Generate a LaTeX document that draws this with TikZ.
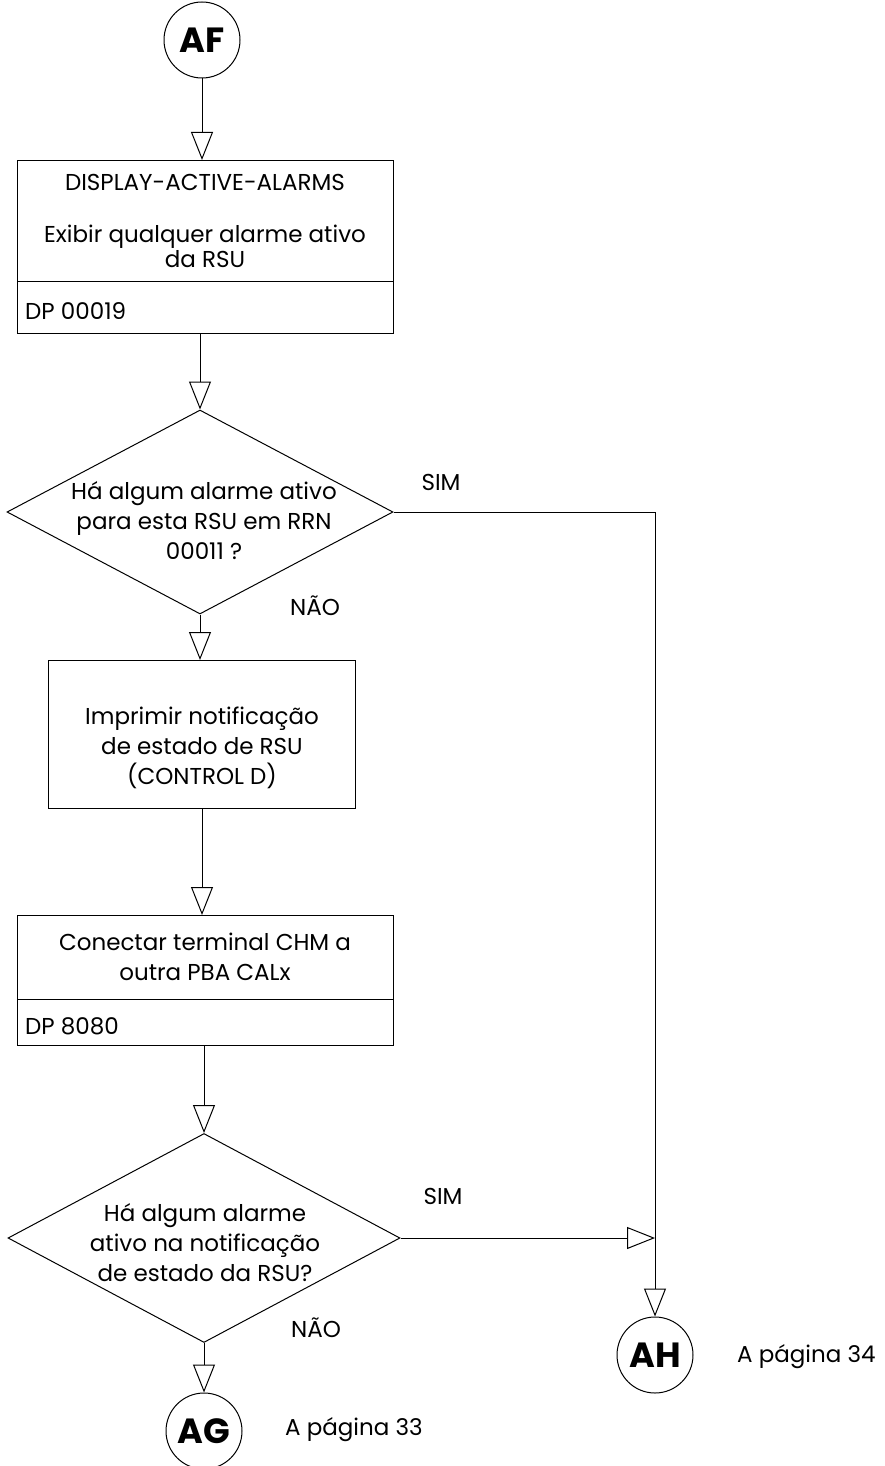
\documentclass[tikz,border=0pt]{standalone}
\usepackage{fontspec}
\setmainfont{Poppins}
\usetikzlibrary{arrows.meta,shapes.geometric}
\begin{document}
\begin{tikzpicture}[x=1pt,y=-1pt,
  every node/.style={font=\fontsize{23}{30}\selectfont, text=black},
  box/.style={draw, line width=1pt, inner sep=0pt, anchor=north west},
  dec/.style={draw, diamond, line width=1pt, inner sep=0pt},
  conn/.style={draw, circle, line width=1pt, minimum size=76pt, inner sep=0pt,
               font=\fontsize{35}{35}\selectfont\bfseries},
  flow/.style={line width=1pt, -{Triangle[open,length=28pt,width=22pt,line width=1pt]}},
  txt/.style={align=center, inner sep=0pt},
  lbl/.style={inner sep=0pt}
]
\useasboundingbox (0,0) rectangle (885,1466);

% start connector
\node[conn] (af) at (202,40) {AF};

% first process box with its reference strip
\node[box, minimum width=376pt, minimum height=121pt] (b1) at (17,160) {};
\node[box, minimum width=376pt, minimum height=52pt] (b1dp) at (17,281) {};
\node[txt] (b1a) at (205,182) {DISPLAY-ACTIVE-ALARMS};
\node[txt, font=\fontsize{23}{25}\selectfont] (b1b) at (205,246) {Exibir qualquer alarme ativo\\da RSU};
\node[lbl, anchor=west] (b1c) at (25,311) {DP 00019};

% first decision
\node[dec, minimum width=386pt, minimum height=204pt] (d1) at (200,512) {};
\node[txt] (d1t) at (204,521) {Há algum alarme ativo\\para esta RSU em RRN\\00011 ?};
\node[lbl] (sim1) at (441,482) {SIM};
\node[lbl] (nao1) at (315,606) {NÃO};

% print box
\node[box, minimum width=307pt, minimum height=148pt] (b2) at (48,660) {};
\node[txt] (b2t) at (202,748) {Imprimir notificação\\de estado de RSU\\(CONTROL D)};

% connect box with its reference strip
\node[box, minimum width=376pt, minimum height=84pt] (b3) at (17,915) {};
\node[box, minimum width=376pt, minimum height=46pt] (b3dp) at (17,999) {};
\node[txt] (b3t) at (205,957) {Conectar terminal CHM a\\outra PBA CALx};
\node[lbl, anchor=west] (b3c) at (25,1026) {DP 8080};

% second decision
\node[dec, minimum width=392pt, minimum height=209pt] (d2) at (204,1238) {};
\node[txt] (d2t) at (205,1243) {Há algum alarme\\ativo na notificação\\de estado da RSU?};
\node[lbl] (sim2) at (443,1196) {SIM};
\node[lbl] (nao2) at (316,1328) {NÃO};

% exit connectors
\node[conn] (ah) at (655,1355) {AH};
\node[lbl, anchor=west] (p34) at (737,1357) {A página 34};
\node[conn] (ag) at (204,1431) {AG};
\node[lbl, anchor=west] (p33) at (285,1430) {A página 33};

% junction on the right-hand trunk line
\coordinate (j) at (d2.east -| ah.north);

% flow lines
\draw[flow] (af.south) -- (af.south |- b1.north);
\draw[flow] (b1dp.south -| d1.north) -- (d1.north);
\draw[flow] (d1.south) -- (d1.south |- b2.north);
\draw[flow] (b2.south) -- (b2.south |- b3.north);
\draw[flow] (b3dp.south -| d2.north) -- (d2.north);
\draw[flow] (d2.south) -- (ag.north);
\draw[flow] (d1.east) -| (ah.north);
\draw[flow] (d2.east) -- (j);
\end{tikzpicture}
\end{document}
